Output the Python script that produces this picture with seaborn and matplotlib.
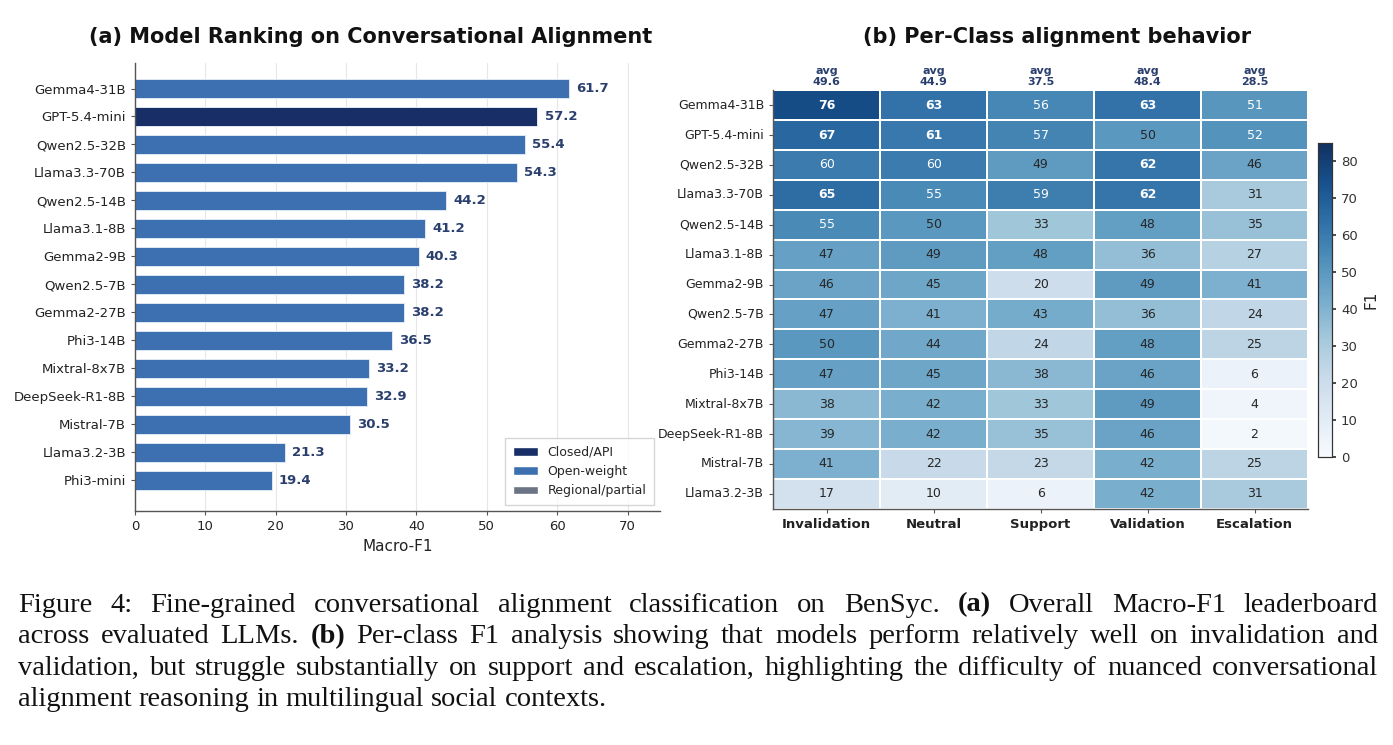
import numpy as np
import pandas as pd
import matplotlib
matplotlib.use("Agg")
import matplotlib.pyplot as plt
import seaborn as sns
from matplotlib.patches import Patch
from matplotlib.colors import LinearSegmentedColormap

# ============================================================================
# DATA
# ============================================================================
rank_models = ["Gemma4-31B", "GPT-5.4-mini", "Qwen2.5-32B", "Llama3.3-70B", "Qwen2.5-14B",
               "Llama3.1-8B", "Gemma2-9B", "Qwen2.5-7B", "Gemma2-27B", "Phi3-14B",
               "Mixtral-8x7B", "DeepSeek-R1-8B", "Mistral-7B", "Llama3.2-3B", "Phi3-mini"]
rank_f1 = [61.7, 57.2, 55.4, 54.3, 44.2, 41.2, 40.3, 38.2, 38.2, 36.5, 33.2, 32.9, 30.5, 21.3, 19.4]
rank_group = ["Open-weight", "Closed/API"] + ["Open-weight"] * 13

heat_models = ["Gemma4-31B", "GPT-5.4-mini", "Qwen2.5-32B", "Llama3.3-70B", "Qwen2.5-14B",
               "Llama3.1-8B", "Gemma2-9B", "Qwen2.5-7B", "Gemma2-27B", "Phi3-14B",
               "Mixtral-8x7B", "DeepSeek-R1-8B", "Mistral-7B", "Llama3.2-3B"]
classes = ["Invalidation", "Neutral", "Support", "Validation", "Escalation"]
invalidation = [76, 67, 60, 65, 55, 47, 46, 47, 50, 47, 38, 39, 41, 17]
neutral = [63, 61, 60, 55, 50, 49, 45, 41, 44, 45, 42, 42, 22, 10]
support = [56, 57, 49, 59, 33, 48, 20, 43, 24, 38, 33, 35, 23, 6]
validation = [63, 50, 62, 62, 48, 36, 49, 36, 48, 46, 49, 46, 42, 42]
escalation = [51, 52, 46, 31, 35, 27, 41, 24, 25, 6, 4, 2, 25, 31]
# averages as printed (computed from unrounded scores)
class_avgs = [49.6, 44.9, 37.5, 48.4, 28.5]

caption_lines = [
    "Figure 4: Fine-grained conversational alignment classification on BenSyc. (a) Overall Macro-F1 leaderboard",
    "across evaluated LLMs. (b) Per-class F1 analysis showing that models perform relatively well on invalidation and",
    "validation, but struggle substantially on support and escalation, highlighting the difficulty of nuanced conversational",
    "alignment reasoning in multilingual social contexts.",
]
caption_bold = {"(a)", "(b)"}

# ============================================================================
# STYLING
# ============================================================================
sns.set_theme(style="white")
plt.rcParams['font.family'] = ['DejaVu Sans']

group_colors = {"Closed/API": "#172f66", "Open-weight": "#3d70b0", "Regional/partial": "#6b7385"}
label_color = "#2a3f6e"
text_dark = "#222222"

W, H = 1393, 745
fig = plt.figure(figsize=(W / 100, H / 100), dpi=100)

# ============================================================================
# (a) BAR RANKING
# ============================================================================
ax1 = fig.add_axes([0.097, 0.314, 0.377, 0.601])
df_rank = pd.DataFrame({"model": rank_models, "f1": rank_f1, "group": rank_group})
sns.barplot(data=df_rank, x="f1", y="model", hue="group", palette=group_colors, saturation=1,
            dodge=False, legend=False, width=0.68, edgecolor="#dfe8f3", linewidth=0.7, ax=ax1)

for i, v in enumerate(rank_f1):
    ax1.text(v + 1.0, i, f"{v:.1f}", va="center", ha="left", fontsize=9.5,
             fontweight="bold", color=label_color)

ax1.set_xlim(0, max(rank_f1) * 1.21)
ax1.set_ylim(len(rank_models) - 1 + 1.1, -0.9)
ax1.set_xticks(range(0, 80, 10))
ax1.set_xlabel("Macro-F1", fontsize=11, color=text_dark)
ax1.set_ylabel("")
ax1.tick_params(axis="both", labelsize=9.5, length=3, width=0.8, left=True, bottom=True,
                colors="#555555", labelcolor=text_dark)
ax1.grid(axis="x", color="#e6e6e6", linewidth=0.8)
ax1.set_axisbelow(True)
for s in ["top", "right"]:
    ax1.spines[s].set_visible(False)
for s in ["left", "bottom"]:
    ax1.spines[s].set_color("#555555")
    ax1.spines[s].set_linewidth(1.0)

handles = [Patch(facecolor=group_colors[g], label=g) for g in group_colors]
ax1.legend(handles=handles, loc="lower right", fontsize=9, frameon=True,
           edgecolor="#cccccc", fancybox=False, handlelength=2.0, borderpad=0.6)

fig.text(0.266, 0.950, "(a) Model Ranking on Conversational Alignment",
         ha="center", va="center", fontsize=15, fontweight="bold", color="#111111")

# ============================================================================
# (b) HEATMAP
# ============================================================================
ax2 = fig.add_axes([0.555, 0.317, 0.384, 0.562])
cax = fig.add_axes([0.9462, 0.3866, 0.0100, 0.4215])

df_heat = pd.DataFrame({"Invalidation": invalidation, "Neutral": neutral, "Support": support,
                        "Validation": validation, "Escalation": escalation}, index=heat_models)

base = plt.get_cmap("Blues")(np.linspace(0, 1, 256))[:, :3]
gray = base.mean(axis=1, keepdims=True)
cmap = LinearSegmentedColormap.from_list("soft_blues", base * 0.8 + gray * 0.2)

sns.heatmap(df_heat, cmap=cmap, vmin=0, vmax=85, linewidths=1.2, linecolor="white",
            cbar_ax=cax, cbar_kws={"label": "F1"}, ax=ax2)

for i, m in enumerate(heat_models):
    for j, c in enumerate(classes):
        v = df_heat.loc[m, c]
        ax2.text(j + 0.5, i + 0.5, f"{v}", ha="center", va="center", fontsize=9,
                 fontweight="bold" if v > 60 else "normal",
                 color="white" if v > 50 else "#262626")

for j, avg in enumerate(class_avgs):
    ax2.text(j + 0.5, -0.45, f"avg\n{avg:.1f}", ha="center", va="center",
             fontsize=8, fontweight="bold", color=label_color, linespacing=1.2, clip_on=False)

ax2.set_xticklabels(classes, rotation=0, fontsize=9.5, fontweight="bold")
ax2.set_yticklabels(heat_models, rotation=0, fontsize=9)
ax2.tick_params(axis="both", length=3, width=0.8, colors="#555555", labelcolor=text_dark,
                left=True, bottom=True)
for s in ["left", "bottom"]:
    ax2.spines[s].set_visible(True)
    ax2.spines[s].set_color("#555555")
    ax2.spines[s].set_linewidth(1.0)

cax.set_yticks(range(0, 90, 10))
cax.tick_params(labelsize=9.5, length=3, colors="#333333")
cax.yaxis.label.set_size(11)
for s in cax.spines.values():
    s.set_visible(True)
    s.set_color("#333333")
    s.set_linewidth(0.8)

fig.text(0.759, 0.950, "(b) Per-Class alignment behavior",
         ha="center", va="center", fontsize=15, fontweight="bold", color="#111111")

# ============================================================================
# CAPTION (justified: words spread over the full text width, last line ragged)
# ============================================================================
renderer = fig.canvas.get_renderer()
x0, x1 = 18, 1378
cap_size = 20.5
space_t = fig.text(0, 0, "a a", fontsize=cap_size, family="Liberation Serif")
pair_t = fig.text(0, 0, "aa", fontsize=cap_size, family="Liberation Serif")
space_w = space_t.get_window_extent(renderer).width - pair_t.get_window_extent(renderer).width
space_t.remove()
pair_t.remove()

for k, line in enumerate(caption_lines):
    y = 1 - (605 + 31.6 * k) / H
    words = line.split(" ")
    texts = [fig.text(0, y, w, ha="left", va="center", fontsize=cap_size,
                      family="Liberation Serif", color="#111111",
                      fontweight="bold" if w in caption_bold else "normal") for w in words]
    widths = [t.get_window_extent(renderer).width for t in texts]
    if k < len(caption_lines) - 1:
        gap = (x1 - x0 - sum(widths)) / (len(words) - 1)
    else:
        gap = space_w
    x = x0
    for t, w in zip(texts, widths):
        t.set_x(x / W)
        x += w + gap

# ============================================================================
# SAVE
# ============================================================================
fig.savefig("out.png", dpi=100)
